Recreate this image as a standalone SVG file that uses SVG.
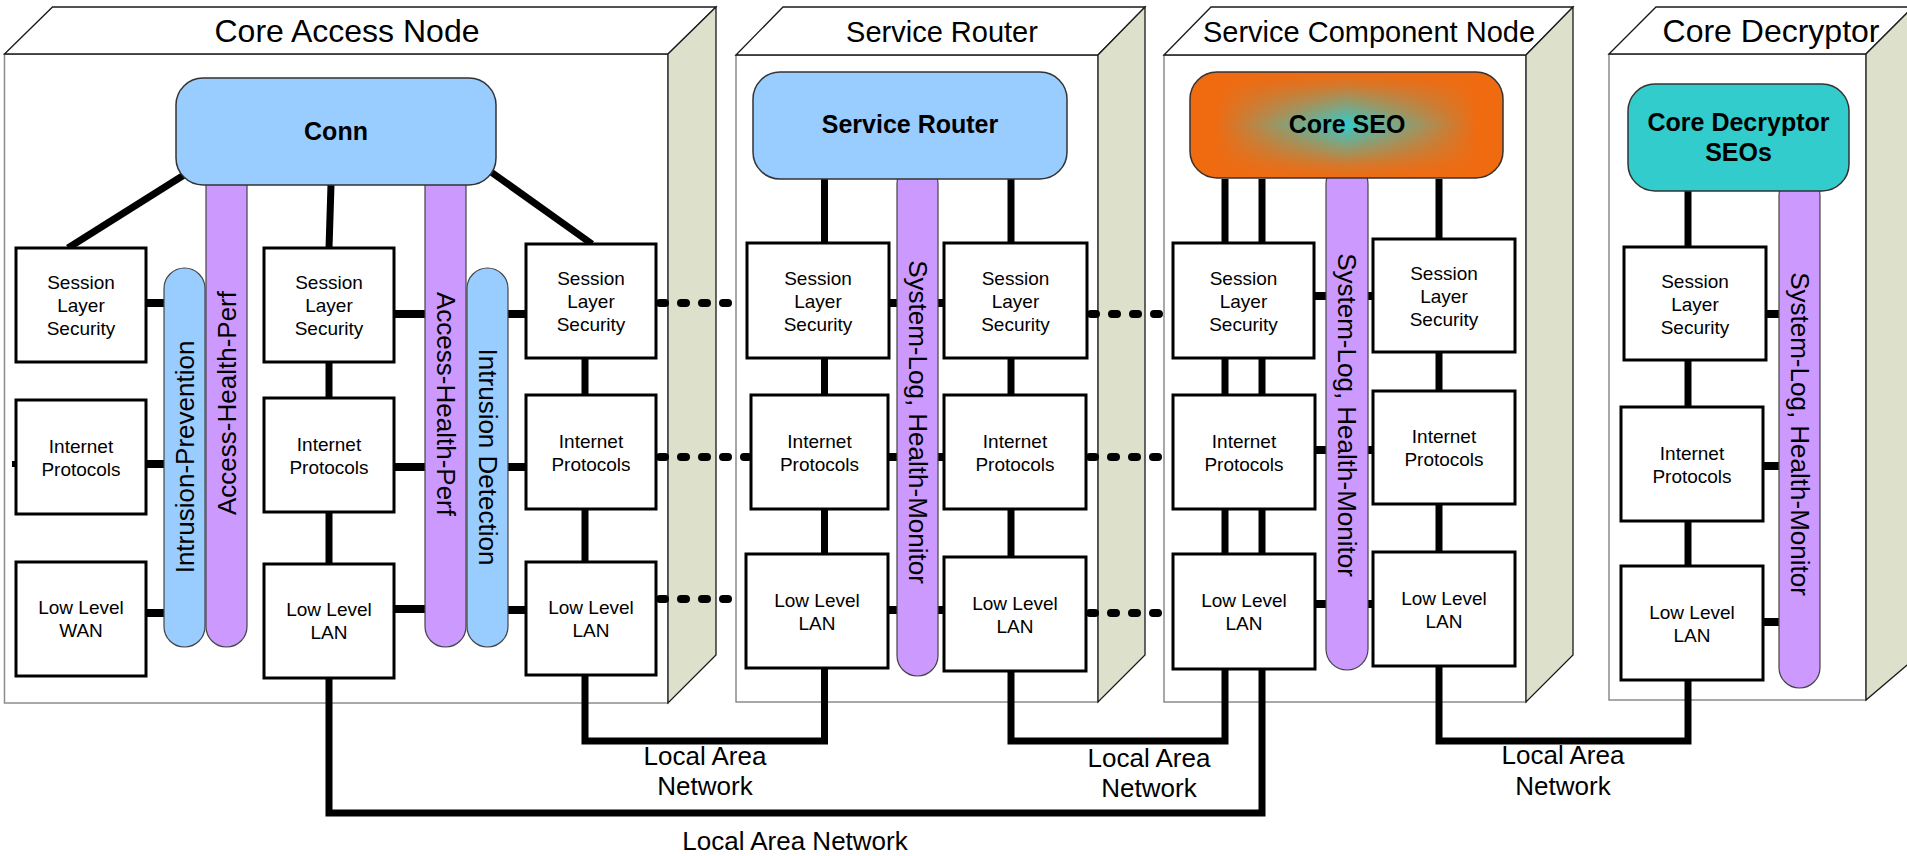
<svg xmlns="http://www.w3.org/2000/svg" width="1907" height="856" viewBox="0 0 1907 856">
<defs>
<style>
.front{fill:#fff;stroke:#8c8c8c;stroke-width:1.5}
.top{fill:#fff;stroke:#1a1a1a;stroke-width:1.3}
.side{fill:#dde0cb;stroke:#1a1a1a;stroke-width:1.3}
.title{font-family:"Liberation Sans",Arial,sans-serif;fill:#000;text-anchor:middle}
.box{fill:#fff;stroke:#000;stroke-width:3}
.bt{font-family:"Liberation Sans",Arial,sans-serif;font-size:19px;fill:#000;text-anchor:middle}
.node{stroke:#333;stroke-width:1.5}
.nt{font-family:"Liberation Sans",Arial,sans-serif;font-size:25px;font-weight:bold;fill:#000;text-anchor:middle}
.purple{fill:#cc99ff;stroke:#444;stroke-width:1.2}
.blue{fill:#99ccff;stroke:#444;stroke-width:1.2}
.bart{font-family:"Liberation Sans",Arial,sans-serif;font-size:26px;fill:#000;text-anchor:middle}
.ln{fill:none;stroke:#000;stroke-width:7}
.stub{fill:none;stroke:#000;stroke-width:8}
.dot{fill:none;stroke:#000;stroke-width:8;stroke-linecap:round;stroke-dasharray:5 16}
.lan{font-family:"Liberation Sans",Arial,sans-serif;font-size:26px;fill:#000;text-anchor:middle}
</style>
<linearGradient id="seoH" x1="0" y1="0" x2="1" y2="0">
<stop offset="0" stop-color="#f06a10"/>
<stop offset="0.08" stop-color="#f06a10"/>
<stop offset="0.5" stop-color="#33cccc"/>
<stop offset="0.92" stop-color="#f06a10"/>
<stop offset="1" stop-color="#f06a10"/>
</linearGradient>
<linearGradient id="seoV" x1="0" y1="0" x2="0" y2="1">
<stop offset="0" stop-color="#f06a10" stop-opacity="1"/>
<stop offset="0.12" stop-color="#f06a10" stop-opacity="0.85"/>
<stop offset="0.5" stop-color="#f06a10" stop-opacity="0"/>
<stop offset="0.88" stop-color="#f06a10" stop-opacity="0.85"/>
<stop offset="1" stop-color="#f06a10" stop-opacity="1"/>
</linearGradient>
</defs>
<rect width="1907" height="856" fill="#fff"/>

<!-- containers -->
<g id="core-access-node">
<rect class="front" x="4.5" y="54" width="663.5" height="649"/>
<polygon class="top" points="4.5,54 52.5,7 716,7 668,54"/>
<polygon class="side" points="668,54 716,7 716,655 668,703"/>
<text class="title" x="347" y="42" font-size="32">Core Access Node</text>
</g>
<g id="service-router-node">
<rect class="front" x="736" y="55" width="362" height="647"/>
<polygon class="top" points="736,55 783,7 1145,7 1098,55"/>
<polygon class="side" points="1098,55 1145,7 1145,655 1098,702"/>
<text class="title" x="942" y="42" font-size="29">Service Router</text>
</g>
<g id="service-component-node">
<rect class="front" x="1164" y="55" width="362" height="647"/>
<polygon class="top" points="1164,55 1211,7 1573,7 1526,55"/>
<polygon class="side" points="1526,55 1573,7 1573,655 1526,702"/>
<text class="title" x="1369" y="42" font-size="29">Service Component Node</text>
</g>
<g id="core-decryptor-node">
<rect class="front" x="1609" y="54" width="257" height="646"/>
<polygon class="top" points="1609,54 1656,7 1913,7 1866,54"/>
<polygon class="side" points="1866,54 1913,7 1913,660 1866,700"/>
<text class="title" x="1771" y="42" font-size="32">Core Decryptor</text>
</g>

<!-- connectors -->
<g id="connectors">
<line class="ln" x1="184" y1="175" x2="68" y2="248"/>
<line class="ln" x1="331" y1="185" x2="329" y2="248"/>
<line class="ln" x1="491" y1="172" x2="592" y2="244"/>
<line class="ln" x1="329" y1="362" x2="329" y2="398"/>
<line class="ln" x1="329" y1="512" x2="329" y2="564"/>
<line class="ln" x1="585" y1="358" x2="585" y2="395"/>
<line class="ln" x1="585" y1="509" x2="585" y2="562"/>
<line class="stub" x1="146" y1="303" x2="165" y2="303"/>
<line class="stub" x1="146" y1="464" x2="165" y2="464"/>
<line class="stub" x1="146" y1="613" x2="165" y2="613"/>
<line class="stub" x1="394" y1="314" x2="426" y2="314"/>
<line class="stub" x1="394" y1="467" x2="426" y2="467"/>
<line class="stub" x1="394" y1="609" x2="426" y2="609"/>
<line class="stub" x1="507" y1="314" x2="526" y2="314"/>
<line class="stub" x1="507" y1="467" x2="526" y2="467"/>
<line class="stub" x1="507" y1="610" x2="526" y2="610"/>
<rect x="12" y="461" width="4" height="6" fill="#000"/>
<line class="ln" x1="824.5" y1="179" x2="824.5" y2="243"/>
<line class="ln" x1="824.5" y1="358" x2="824.5" y2="395"/>
<line class="ln" x1="824.5" y1="509" x2="824.5" y2="554"/>
<line class="ln" x1="1011" y1="179" x2="1011" y2="243"/>
<line class="ln" x1="1011" y1="358" x2="1011" y2="395"/>
<line class="ln" x1="1011" y1="509" x2="1011" y2="557"/>
<line class="stub" x1="889" y1="303" x2="898" y2="303"/>
<line class="stub" x1="937" y1="303" x2="944" y2="303"/>
<line class="stub" x1="888" y1="457" x2="898" y2="457"/>
<line class="stub" x1="937" y1="457" x2="944" y2="457"/>
<line class="stub" x1="888" y1="610" x2="898" y2="610"/>
<line class="stub" x1="937" y1="610" x2="944" y2="610"/>
<line class="ln" x1="1225" y1="179" x2="1225" y2="243"/>
<line class="ln" x1="1262" y1="179" x2="1262" y2="243"/>
<line class="ln" x1="1225" y1="358" x2="1225" y2="395"/>
<line class="ln" x1="1262" y1="358" x2="1262" y2="395"/>
<line class="ln" x1="1225" y1="509" x2="1225" y2="554"/>
<line class="ln" x1="1262" y1="509" x2="1262" y2="554"/>
<line class="ln" x1="1439" y1="179" x2="1439" y2="239"/>
<line class="ln" x1="1439" y1="352" x2="1439" y2="391"/>
<line class="ln" x1="1439" y1="504" x2="1439" y2="552"/>
<line class="stub" x1="1314" y1="296" x2="1327" y2="296"/>
<line class="stub" x1="1367" y1="296" x2="1373" y2="296"/>
<line class="stub" x1="1315" y1="450" x2="1327" y2="450"/>
<line class="stub" x1="1367" y1="450" x2="1373" y2="450"/>
<line class="stub" x1="1315" y1="604" x2="1327" y2="604"/>
<line class="stub" x1="1367" y1="604" x2="1373" y2="604"/>
<line class="ln" x1="1688" y1="191" x2="1688" y2="247"/>
<line class="ln" x1="1688" y1="360" x2="1688" y2="407"/>
<line class="ln" x1="1688" y1="521" x2="1688" y2="566"/>
<line class="stub" x1="1766" y1="314" x2="1780" y2="314"/>
<line class="stub" x1="1763" y1="466" x2="1780" y2="466"/>
<line class="stub" x1="1763" y1="622" x2="1780" y2="622"/>
<polyline class="ln" points="585,675 585,741 824.5,741 824.5,668"/>
<polyline class="ln" points="1011,671 1011,741 1225,741 1225,669"/>
<polyline class="ln" points="329,678 329,813 1262,813 1262,669"/>
<polyline class="ln" points="1439,666 1439,741 1688,741 1688,680"/>
<line class="dot" x1="660" y1="303" x2="744" y2="303"/>
<line class="dot" x1="660" y1="457" x2="748" y2="457"/>
<line class="dot" x1="660" y1="599" x2="743" y2="599"/>
<line class="dot" x1="1091" y1="314" x2="1170" y2="314"/>
<line class="dot" x1="1090" y1="457" x2="1170" y2="457"/>
<line class="dot" x1="1090" y1="613" x2="1170" y2="613"/>
<text class="lan" x="705" y="765">Local Area</text>
<text class="lan" x="705" y="795">Network</text>
<text class="lan" x="1149" y="767">Local Area</text>
<text class="lan" x="1149" y="797">Network</text>
<text class="lan" x="1563" y="764">Local Area</text>
<text class="lan" x="1563" y="795">Network</text>
<text class="lan" x="795" y="850">Local Area Network</text>
</g>

<!-- bars -->
<g id="bar-intrusion-prevention">
<rect class="blue" x="164" y="268" width="41" height="379" rx="20.5"/>
<text class="bart" transform="translate(185,457) rotate(-90)" x="0" y="9">Intrusion-Prevention</text>
</g>
<g id="bar-access-health-perf-1">
<rect class="purple" x="206" y="165" width="41" height="482" rx="20.5"/>
<text class="bart" transform="translate(226.5,403) rotate(-90)" x="0" y="9">Access-Health-Perf</text>
</g>
<g id="bar-access-health-perf-2">
<rect class="purple" x="425" y="165" width="41" height="482" rx="20.5"/>
<text class="bart" transform="translate(445.5,404) rotate(90)" x="0" y="9">Access-Health-Perf</text>
</g>
<g id="bar-intrusion-detection">
<rect class="blue" x="467" y="268" width="41" height="379" rx="20.5"/>
<text class="bart" transform="translate(487.5,457) rotate(90)" x="0" y="9">Intrusion Detection</text>
</g>
<g id="bar-sr-syslog">
<rect class="purple" x="897" y="163" width="41" height="513" rx="20.5"/>
<text class="bart" transform="translate(917.5,422) rotate(90)" x="0" y="9">System-Log, Health-Monitor</text>
</g>
<g id="bar-scn-syslog">
<rect class="purple" x="1326" y="163" width="42" height="507" rx="21"/>
<text class="bart" transform="translate(1347,415) rotate(90)" x="0" y="9">System-Log, Health-Monitor</text>
</g>
<g id="bar-cd-syslog">
<rect class="purple" x="1779" y="175" width="41" height="513" rx="20.5"/>
<text class="bart" transform="translate(1799.5,434) rotate(90)" x="0" y="9">System-Log, Health-Monitor</text>
</g>

<!-- top nodes -->
<g id="conn">
<rect class="node" x="176" y="78" width="320" height="107" rx="27" fill="#99ccff"/>
<text class="nt" x="336" y="140">Conn</text>
</g>
<g id="service-router">
<rect class="node" x="753" y="72" width="314" height="107" rx="27" fill="#99ccff"/>
<text class="nt" x="910" y="133">Service Router</text>
</g>
<g id="core-seo">
<rect x="1190" y="72" width="313" height="106" rx="27" fill="url(#seoH)"/>
<rect class="node" x="1190" y="72" width="313" height="106" rx="27" fill="url(#seoV)"/>
<text class="nt" x="1347" y="133">Core SEO</text>
</g>
<g id="core-decryptor-seos">
<rect class="node" x="1628" y="84" width="221" height="107" rx="27" fill="#33cccc"/>
<text class="nt" x="1738.5" y="131">Core Decryptor</text>
<text class="nt" x="1738.5" y="161">SEOs</text>
</g>

<g id="can-session-1"><rect class="box" x="16" y="248" width="130" height="114"/><text class="bt"><tspan x="81" y="289">Session</tspan><tspan x="81" y="312">Layer</tspan><tspan x="81" y="335">Security</tspan></text></g>
<g id="can-internet-1"><rect class="box" x="16" y="400" width="130" height="114"/><text class="bt"><tspan x="81" y="452.5">Internet</tspan><tspan x="81" y="475.5">Protocols</tspan></text></g>
<g id="can-wan-1"><rect class="box" x="16" y="562" width="130" height="114"/><text class="bt"><tspan x="81" y="614">Low Level</tspan><tspan x="81" y="637">WAN</tspan></text></g>
<g id="can-session-2"><rect class="box" x="264" y="248" width="130" height="114"/><text class="bt"><tspan x="329" y="289">Session</tspan><tspan x="329" y="312">Layer</tspan><tspan x="329" y="335">Security</tspan></text></g>
<g id="can-internet-2"><rect class="box" x="264" y="398" width="130" height="114"/><text class="bt"><tspan x="329" y="450.5">Internet</tspan><tspan x="329" y="473.5">Protocols</tspan></text></g>
<g id="can-lan-2"><rect class="box" x="264" y="564" width="130" height="114"/><text class="bt"><tspan x="329" y="616">Low Level</tspan><tspan x="329" y="639">LAN</tspan></text></g>
<g id="can-session-3"><rect class="box" x="526" y="244" width="130" height="114"/><text class="bt"><tspan x="591" y="285">Session</tspan><tspan x="591" y="308">Layer</tspan><tspan x="591" y="331">Security</tspan></text></g>
<g id="can-internet-3"><rect class="box" x="526" y="395" width="130" height="114"/><text class="bt"><tspan x="591" y="447.5">Internet</tspan><tspan x="591" y="470.5">Protocols</tspan></text></g>
<g id="can-lan-3"><rect class="box" x="526" y="562" width="130" height="113"/><text class="bt"><tspan x="591" y="614">Low Level</tspan><tspan x="591" y="637">LAN</tspan></text></g>

<g id="sr-session-1"><rect class="box" x="747" y="243" width="142" height="115"/><text class="bt"><tspan x="818" y="284.5">Session</tspan><tspan x="818" y="307.5">Layer</tspan><tspan x="818" y="330.5">Security</tspan></text></g>
<g id="sr-internet-1"><rect class="box" x="751" y="395" width="137" height="114"/><text class="bt"><tspan x="819.5" y="447.5">Internet</tspan><tspan x="819.5" y="470.5">Protocols</tspan></text></g>
<g id="sr-lan-1"><rect class="box" x="746" y="554" width="142" height="114"/><text class="bt"><tspan x="817" y="606.5">Low Level</tspan><tspan x="817" y="629.5">LAN</tspan></text></g>
<g id="sr-session-2"><rect class="box" x="944" y="243" width="143" height="115"/><text class="bt"><tspan x="1015.5" y="284.5">Session</tspan><tspan x="1015.5" y="307.5">Layer</tspan><tspan x="1015.5" y="330.5">Security</tspan></text></g>
<g id="sr-internet-2"><rect class="box" x="944" y="395" width="142" height="114"/><text class="bt"><tspan x="1015" y="447.5">Internet</tspan><tspan x="1015" y="470.5">Protocols</tspan></text></g>
<g id="sr-lan-2"><rect class="box" x="944" y="557" width="142" height="114"/><text class="bt"><tspan x="1015" y="609.5">Low Level</tspan><tspan x="1015" y="632.5">LAN</tspan></text></g>

<g id="scn-session-1"><rect class="box" x="1173" y="243" width="141" height="115"/><text class="bt"><tspan x="1243.5" y="284.5">Session</tspan><tspan x="1243.5" y="307.5">Layer</tspan><tspan x="1243.5" y="330.5">Security</tspan></text></g>
<g id="scn-internet-1"><rect class="box" x="1173" y="395" width="142" height="114"/><text class="bt"><tspan x="1244" y="447.5">Internet</tspan><tspan x="1244" y="470.5">Protocols</tspan></text></g>
<g id="scn-lan-1"><rect class="box" x="1173" y="554" width="142" height="115"/><text class="bt"><tspan x="1244" y="607">Low Level</tspan><tspan x="1244" y="630">LAN</tspan></text></g>
<g id="scn-session-2"><rect class="box" x="1373" y="239" width="142" height="113"/><text class="bt"><tspan x="1444" y="279.5">Session</tspan><tspan x="1444" y="302.5">Layer</tspan><tspan x="1444" y="325.5">Security</tspan></text></g>
<g id="scn-internet-2"><rect class="box" x="1373" y="391" width="142" height="113"/><text class="bt"><tspan x="1444" y="443">Internet</tspan><tspan x="1444" y="466">Protocols</tspan></text></g>
<g id="scn-lan-2"><rect class="box" x="1373" y="552" width="142" height="114"/><text class="bt"><tspan x="1444" y="604.5">Low Level</tspan><tspan x="1444" y="627.5">LAN</tspan></text></g>

<g id="cd-session"><rect class="box" x="1624" y="247" width="142" height="113"/><text class="bt"><tspan x="1695" y="287.5">Session</tspan><tspan x="1695" y="310.5">Layer</tspan><tspan x="1695" y="333.5">Security</tspan></text></g>
<g id="cd-internet"><rect class="box" x="1621" y="407" width="142" height="114"/><text class="bt"><tspan x="1692" y="459.5">Internet</tspan><tspan x="1692" y="482.5">Protocols</tspan></text></g>
<g id="cd-lan"><rect class="box" x="1621" y="566" width="142" height="114"/><text class="bt"><tspan x="1692" y="618.5">Low Level</tspan><tspan x="1692" y="641.5">LAN</tspan></text></g>
</svg>
